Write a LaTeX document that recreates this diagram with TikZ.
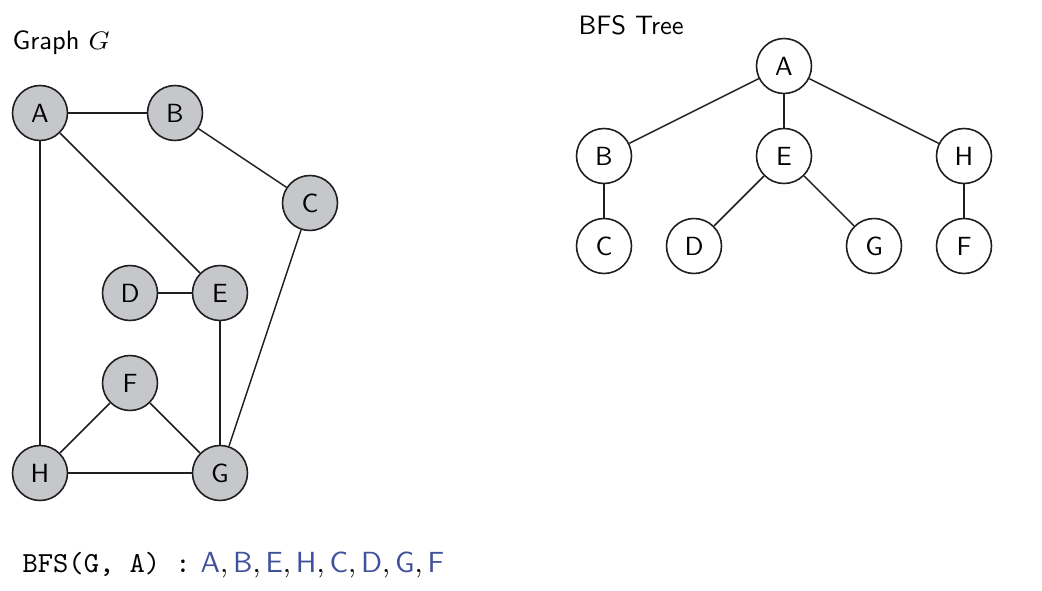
\documentclass[tikz,border=0pt]{standalone}
\usepackage{fontspec}
\setsansfont{lmsans10-regular}[Extension=.otf]
\setmonofont{lmmono10-regular}[Extension=.otf]
\usetikzlibrary{positioning}
\definecolor{nodegrey}{RGB}{198,199,203}
\definecolor{seqblue}{RGB}{63,81,155}
\definecolor{edgecol}{RGB}{30,30,30}
\newcommand{\sq}[1]{\textcolor{seqblue}{\mathsf{#1}}}
\newcommand{\sqc}{\mathpunct{\mathsf{,}}}
\begin{document}
\begin{tikzpicture}[x=0.0111111cm,y=-0.0111111cm,
  vtx/.style={circle,draw=edgecol,line width=0.5pt,fill=nodegrey,inner sep=0pt,minimum size=0.611cm,font=\fontsize{8.3}{9.9}\selectfont\sffamily},
  tvtx/.style={vtx,fill=white},
  edge/.style={draw=edgecol,line width=0.45pt},
  ttl/.style={anchor=base west,inner sep=0pt,font=\fontsize{8.4}{10}\selectfont\sffamily}]
\useasboundingbox (0,0) rectangle (1042,591);
% Graph G
\node[ttl] (gt) at (12,50) {Graph $G$};
\node[vtx] (A) at (40,113) {A};
\node[vtx] (B) at (175,113) {B};
\node[vtx] (C) at (310,203) {C};
\node[vtx] (D) at (130,293) {D};
\node[vtx] (E) at (220,293) {E};
\node[vtx] (F) at (130,383) {F};
\node[vtx] (H) at (40,473) {H};
\node[vtx] (G) at (220,473) {G};
\draw[edge] (A) -- (B);
\draw[edge] (A) -- (E);
\draw[edge] (A) -- (H);
\draw[edge] (B) -- (C);
\draw[edge] (C) -- (G);
\draw[edge] (D) -- (E);
\draw[edge] (E) -- (G);
\draw[edge] (F) -- (H);
\draw[edge] (F) -- (G);
\draw[edge] (H) -- (G);
% BFS tree
\node[ttl] (tt) at (578,35) {BFS Tree};
\node[tvtx] (tA) at (784,66) {A};
\node[tvtx] (tB) at (604,156) {B};
\node[tvtx] (tE) at (784,156) {E};
\node[tvtx] (tH) at (964,156) {H};
\node[tvtx] (tC) at (604,246) {C};
\node[tvtx] (tD) at (694,246) {D};
\node[tvtx] (tG) at (874,246) {G};
\node[tvtx] (tF) at (964,246) {F};
\draw[edge] (tA) -- (tB);
\draw[edge] (tA) -- (tE);
\draw[edge] (tA) -- (tH);
\draw[edge] (tB) -- (tC);
\draw[edge] (tE) -- (tD);
\draw[edge] (tE) -- (tG);
\draw[edge] (tH) -- (tF);
% sequence
\node[anchor=base west,inner sep=0pt,font=\fontsize{9.2}{11}\selectfont] (seq) at (22,572)
  {\texttt{BFS(G, A) :} $\sq{A}\sqc \sq{B}\sqc \sq{E}\sqc \sq{H}\sqc \sq{C}\sqc \sq{D}\sqc \sq{G}\sqc \sq{F}$};
\end{tikzpicture}
\end{document}
